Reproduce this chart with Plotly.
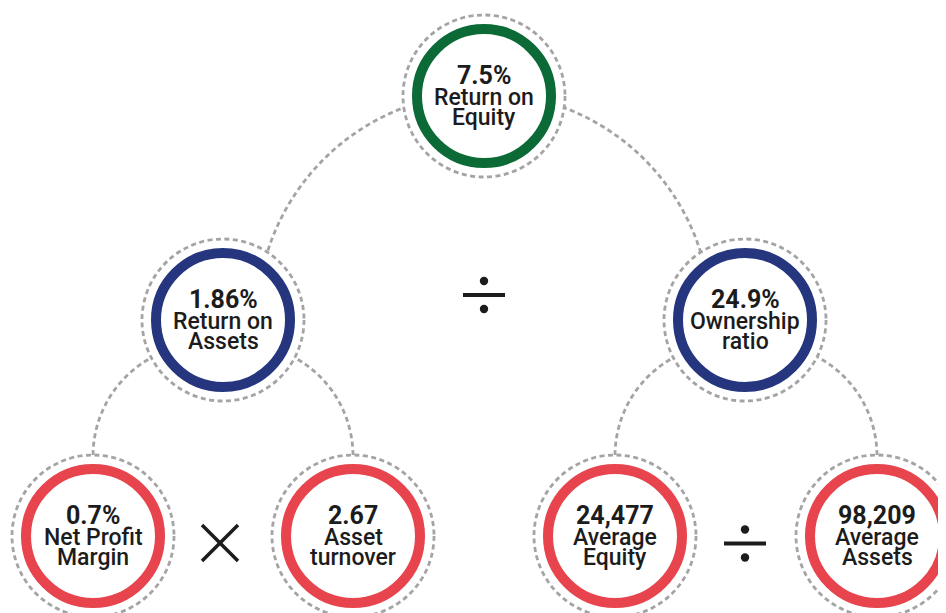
import numpy as np
import plotly.graph_objects as go

# ---------------- data ----------------
node_values = ["7.5%", "1.86%", "24.9%", "0.7%", "2.67", "24,477", "98,209"]
node_line1 = ["Return on", "Return on", "Ownership", "Net Profit", "Asset", "Average", "Average"]
node_line2 = ["Equity", "Assets", "ratio", "Margin", "turnover", "Equity", "Assets"]
node_level = [0, 1, 1, 2, 2, 2, 2]
operators = ["÷", "×", "÷"]          # between ROA/Ownership, NPM/Turnover, AvgEquity/AvgAssets

# ---------------- layout geometry ----------------
W, H = 946, 613
OFF = 8   # page body margin compensation
node_x = [484, 223, 745, 93, 353, 615, 877]
node_y = [96, 320, 320, 536, 536, 536, 536]
level_color = {0: "#0c6a37", 1: "#25367e", 2: "#e8444d"}
op_xy = [(484, 295), (220, 543), (745, 543.5)]

GRAY = "#a4a4a4"
DASH = "5px,3.5px"
LW = 2.8
TXT = "#1c1c1c"
R_DASH = 81
R_RING = 67
RING_W = 10

shapes = []
annotations = []


def path_from(xs, ys):
    return "M " + " L ".join(f"{x:.2f},{y:.2f}" for x, y in zip(xs, ys))


# big arc connecting ROE to ROA and Ownership ratio
cx, cy, R = 484, 320, 227
t = np.linspace(np.radians(0), np.radians(180), 240)
ax = cx + R * np.cos(t)
ay = cy - R * np.sin(t)
shapes.append(dict(type="path", path=path_from(ax, ay), xref="x", yref="y",
                   line=dict(color=GRAY, width=LW, dash=DASH), layer="above"))

# quarter arcs from level-1 nodes down to level-2 nodes
r_small = 112
for parent, kids in [(1, (3, 4)), (2, (5, 6))]:
    for k, side in zip(kids, (-1, 1)):
        top_y = node_y[k] - R_DASH + 1
        ccx = node_x[k] - side * r_small
        tt = np.linspace(np.radians(90), np.radians(180), 120)
        xs = ccx - side * r_small * np.cos(tt)
        ys = top_y - r_small * np.sin(tt)
        xs = np.concatenate([xs, [node_x[k]]])
        ys = np.concatenate([ys, [node_y[k]]])
        shapes.append(dict(type="path", path=path_from(xs, ys), xref="x", yref="y",
                           line=dict(color=GRAY, width=LW, dash=DASH), layer="above"))

# nodes
for i in range(len(node_values)):
    x, y = node_x[i], node_y[i]
    shapes.append(dict(type="circle", xref="x", yref="y",
                       x0=x - R_DASH, x1=x + R_DASH, y0=y - R_DASH, y1=y + R_DASH,
                       fillcolor="white", line=dict(color=GRAY, width=LW, dash=DASH),
                       layer="above"))
    shapes.append(dict(type="circle", xref="x", yref="y",
                       x0=x - R_RING, x1=x + R_RING, y0=y - R_RING, y1=y + R_RING,
                       fillcolor="white",
                       line=dict(color=level_color[node_level[i]], width=RING_W),
                       layer="above"))
    annotations.append(dict(x=x, y=y - 21, xref="x", yref="y", showarrow=False,
                            text=node_values[i], xanchor="center", yanchor="middle",
                            font=dict(family="Roboto", size=25, color=TXT, weight=700)))
    annotations.append(dict(x=x, y=y + 1.5, xref="x", yref="y", showarrow=False,
                            text=node_line1[i], xanchor="center", yanchor="middle",
                            font=dict(family="Roboto", size=23, color=TXT, weight=500)))
    annotations.append(dict(x=x, y=y + 21, xref="x", yref="y", showarrow=False,
                            text=node_line2[i], xanchor="center", yanchor="middle",
                            font=dict(family="Roboto", size=23, color=TXT, weight=500)))

# operator symbols
for op, (ox, oy) in zip(operators, op_xy):
    if op == "÷":
        shapes.append(dict(type="rect", xref="x", yref="y", x0=ox - 21, x1=ox + 21,
                           y0=oy - 2, y1=oy + 2, fillcolor=TXT, line=dict(width=0)))
        for dy in (-14, 14):
            shapes.append(dict(type="circle", xref="x", yref="y", x0=ox - 4.2, x1=ox + 4.2,
                               y0=oy + dy - 4.2, y1=oy + dy + 4.2, fillcolor=TXT,
                               line=dict(width=0)))
    else:
        s = 18
        for sgn in (1, -1):
            shapes.append(dict(type="line", xref="x", yref="y", x0=ox - s, x1=ox + s,
                               y0=oy - sgn * s, y1=oy + sgn * s,
                               line=dict(color=TXT, width=3.5)))

fig = go.Figure()
fig.add_trace(go.Scatter(x=node_x, y=node_y, mode="markers",
                         marker=dict(size=1, opacity=0), hoverinfo="skip", showlegend=False))
fig.update_layout(
    width=W, height=H,
    margin=dict(l=0, r=0, t=0, b=0),
    paper_bgcolor="white", plot_bgcolor="white",
    xaxis=dict(range=[OFF, W + OFF], visible=False, fixedrange=True),
    yaxis=dict(range=[H + OFF, OFF], visible=False, fixedrange=True),
    shapes=shapes, annotations=annotations, showlegend=False,
)
fig.write_html("out.html")
